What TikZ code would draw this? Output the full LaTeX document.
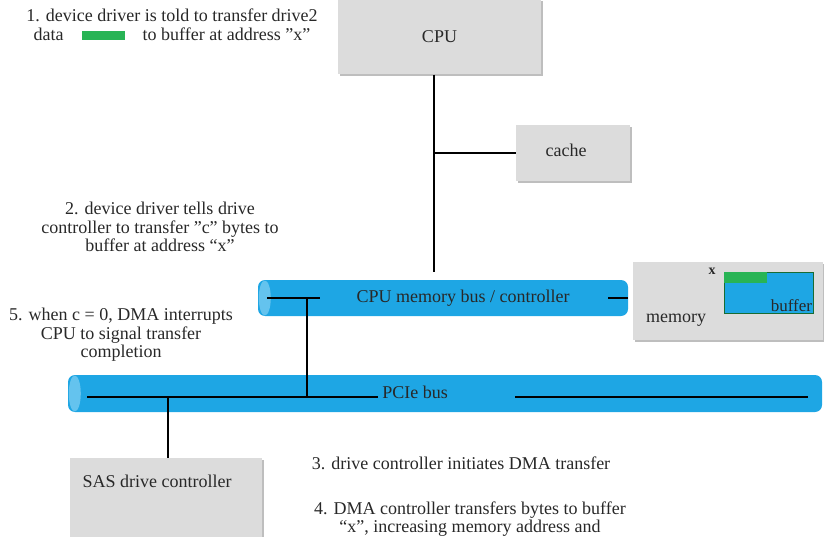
\documentclass[tikz,border=0pt]{standalone}
\usepackage{fontspec}
\setmainfont{Liberation Serif}
\definecolor{boxgray}{RGB}{220,220,220}
\definecolor{shadowgray}{RGB}{190,190,190}
\definecolor{busblue}{RGB}{30,166,228}
\definecolor{capblue}{RGB}{100,195,238}
\definecolor{datagreen}{RGB}{40,180,85}
\definecolor{txt}{RGB}{40,40,40}
\begin{document}
\begin{tikzpicture}[x=1pt,y=-1pt,
  lab/.style={text=txt, font=\fontsize{18}{18.5}\selectfont},
  graybox/.style={fill=boxgray, draw=none, minimum width=#1,
    preaction={fill=shadowgray, transform canvas={xshift=1.5pt,yshift=-2pt}}},
  bus/.style={fill=busblue, rounded corners=7pt, minimum width=#1},
  wire/.style={line width=1.8pt, black},
  note/.style={align=center, text=txt, font=\fontsize{18}{18.5}\selectfont}]
\useasboundingbox (0,0) rectangle (824,537);
\clip (0,0) rectangle (824,537);
% boxes
\node[graybox=203pt, minimum height=75pt, lab] (cpu) at (439.5,37) {CPU};
\node[graybox=114pt, minimum height=56pt] (cache) at (573,153) {};
\node[lab] (cachet) at (566,150) {cache};
\node[graybox=190pt, minimum height=78pt] (mem) at (728,301) {};
\node[graybox=192pt, minimum height=90pt] (sas) at (166,503) {};
\node[lab] (sast) at (157,481) {SAS drive controller};
% memory content
\node[lab] (memt) at (676,320) {memory};
\node[fill=busblue, draw=datagreen!60!black, line width=0.4pt, minimum width=89pt, minimum height=41pt, inner sep=0pt] (buf) at (768.5,292.5) {};
\node[fill=datagreen, minimum width=43pt, minimum height=11pt, inner sep=0pt, anchor=north west] (grn) at (buf.north west) {};
\node[text=txt, font=\fontsize{17}{18}\selectfont, anchor=south east, inner sep=1pt] (buft) at (buf.south east) {buffer};
\node[text=txt, font=\bfseries\fontsize{14}{15}\selectfont] (xl) at (712,271) {x};
% buses
\node[bus=370pt, minimum height=36pt] (membus) at (443,298) {};
\fill[capblue] ([xshift=7pt]membus.west) ellipse[x radius=6pt, y radius=17.5pt];
\node[lab] (membust) at (463,298) {CPU memory bus / controller};
\node[bus=754pt, minimum height=37pt] (pcie) at (445,393.5) {};
\fill[capblue] ([xshift=7pt]pcie.west) ellipse[x radius=6pt, y radius=18pt];
\node[lab] (pciet) at (415,392) {PCIe bus};
% wires
\coordinate (mbL) at (267,298);
\coordinate (mbR) at (320,298);
\coordinate (mbJ) at (307,298);
\coordinate (mbE1) at (608,298);
\coordinate (mbE2) at (628,298);
\coordinate (pL) at (87,397);
\coordinate (pM) at (378,397);
\coordinate (pJ) at (307,397);
\coordinate (pR1) at (515,397);
\coordinate (pR2) at (808,397);
\coordinate (pS) at (168,397);
\coordinate (cj) at (434,153);
\draw[wire] (cpu.south -| cj) -- (434,272);
\draw[wire] (cj) -- (cache.west);
\draw[wire] (mbL) -- (mbR);
\draw[wire] (mbE1) -- (mbE2);
\draw[wire] (mbJ) -- (pJ);
\draw[wire] (pL) -- (pM);
\draw[wire] (pR1) -- (pR2);
\draw[wire] (pS) -- (sas.north -| pS);
% notes
\node[note] (n1) at (172,25) {1. device driver is told to transfer drive2\\data\quad\textcolor{datagreen}{\rule[0pt]{43pt}{9pt}}\quad to buffer at address ''x''};
\node[note] (n2) at (160,227) {2. device driver tells drive\\controller to transfer ''c'' bytes to\\buffer at address ``x''};
\node[note] (n5) at (121,335) {5. when c = 0, DMA interrupts\\CPU to signal transfer\\completion};
\node[note] (n3) at (461,463) {3. drive controller initiates DMA transfer};
\node[note] (n4) at (470,519) {4. DMA controller transfers bytes to buffer\\``x'', increasing memory address and};
\end{tikzpicture}
\end{document}
